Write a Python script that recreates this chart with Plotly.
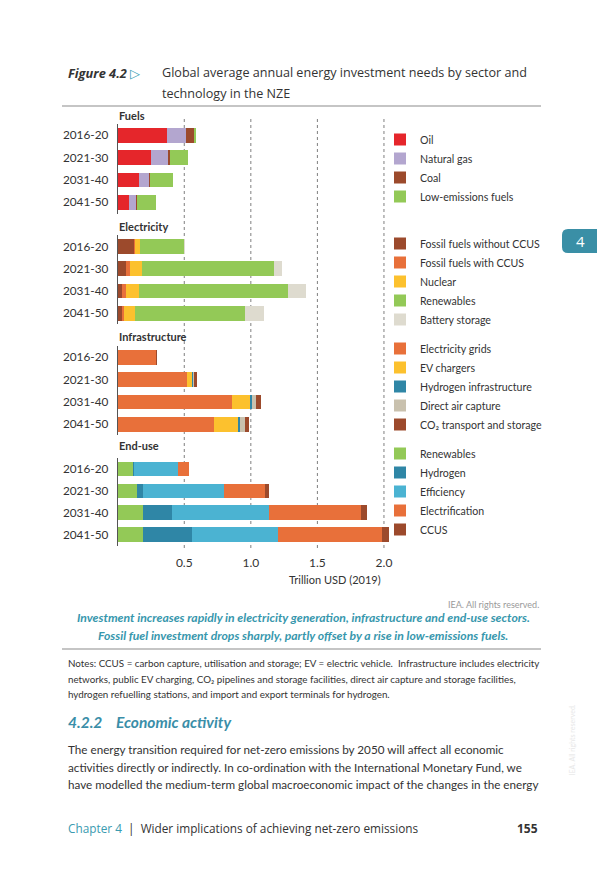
import plotly.graph_objects as go
from plotly.subplots import make_subplots

# ---------------- data ----------------
periods = ["2016-20", "2021-30", "2031-40", "2041-50"]
sections = ["Fuels", "Electricity", "Infrastructure", "End-use"]

fuels_names = ["Oil", "Natural gas", "Coal", "Low-emissions fuels"]
fuels_oil = [0.37, 0.25, 0.16, 0.085]
fuels_gas = [0.14, 0.125, 0.078, 0.055]
fuels_coal = [0.068, 0.015, 0.008, 0.003]
fuels_low = [0.01, 0.138, 0.172, 0.145]

elec_names = ["Fossil fuels without CCUS", "Fossil fuels with CCUS", "Nuclear",
              "Renewables", "Battery storage"]
elec_fossil = [0.124, 0.061, 0.031, 0.029]
elec_ccus = [0.004, 0.028, 0.030, 0.018]
elec_nuclear = [0.038, 0.090, 0.097, 0.083]
elec_renew = [0.330, 0.998, 1.120, 0.828]
elec_battery = [0.004, 0.055, 0.138, 0.140]

infra_names = ["Electricity grids", "EV chargers", "Hydrogen infrastructure",
               "Direct air capture", "CO₂ transport and storage"]
infra_grids = [0.286, 0.519, 0.859, 0.721]
infra_ev = [0.002, 0.040, 0.133, 0.183]
infra_h2 = [0.000, 0.008, 0.015, 0.015]
infra_dac = [0.000, 0.008, 0.035, 0.037]
infra_co2 = [0.002, 0.017, 0.032, 0.033]

end_names = ["Renewables", "Hydrogen", "Efficiency", "Electrification", "CCUS"]
end_renew = [0.119, 0.146, 0.189, 0.189]
end_h2 = [0.002, 0.043, 0.220, 0.372]
end_eff = [0.330, 0.610, 0.725, 0.643]
end_elec = [0.087, 0.305, 0.690, 0.778]
end_ccus = [0.000, 0.035, 0.050, 0.055]

x_ticks = [0.5, 1.0, 1.5, 2.0]
x_tick_labels = ["0.5", "1.0", "1.5", "2.0"]
x_title = "Trillion USD (2019)"

# ---------------- styles ----------------
RED = "#E5262B"
LAV = "#B3A6CF"
BROWN = "#9C4A2C"
GREEN = "#93C957"
ORANGE = "#E8703A"
YELLOW = "#FCC12E"
BEIGE = "#DEDBCF"
H2BLUE = "#2F86A6"
LBLUE = "#4BB3D2"
DAC = "#C9C1AE"
TEAL = "#3797AD"
TXT = "#333333"
FONT = "Lato"
HFONT = "Open Sans"

# the page body has an 8px margin, so the figure is 8px smaller and
# all page coordinates below are shifted by that offset
OFF = 8
W, H = 605 - OFF, 870 - OFF


def px(xp):
    return (xp - OFF) / W


def py(yp):
    return 1 - (yp - OFF) / H


groups = [
    (fuels_names, [fuels_oil, fuels_gas, fuels_coal, fuels_low],
     [RED, LAV, BROWN, GREEN]),
    (elec_names, [elec_fossil, elec_ccus, elec_nuclear, elec_renew, elec_battery],
     [BROWN, ORANGE, YELLOW, GREEN, BEIGE]),
    (infra_names, [infra_grids, infra_ev, infra_h2, infra_dac, infra_co2],
     [ORANGE, YELLOW, H2BLUE, DAC, BROWN]),
    (end_names, [end_renew, end_h2, end_eff, end_elec, end_ccus],
     [GREEN, H2BLUE, LBLUE, ORANGE, BROWN]),
]

fig = make_subplots(rows=4, cols=1, shared_xaxes=True, vertical_spacing=0.02)

legend_ids = ["legend", "legend2", "legend3", "legend4"]
for r, (names, series, colors) in enumerate(groups, start=1):
    for name, vals, col in zip(names, series, colors):
        fig.add_trace(go.Bar(
            y=periods, x=vals, name=name, orientation="h",
            marker=dict(color=col, line=dict(width=0)),
            legend=legend_ids[r - 1], hoverinfo="skip",
        ), row=r, col=1)

# subplot vertical domains (page pixels: top, bottom)
domains_px = [(124.1, 213.5), (235.4, 324.4), (346.0, 435.4), (457.8, 545.7)]
x_domain = [px(117.7), px(117.7 + 2.06 * 133.13)]

for i, (t, b) in enumerate(domains_px, start=1):
    ykey = "yaxis" if i == 1 else f"yaxis{i}"
    xkey = "xaxis" if i == 1 else f"xaxis{i}"
    fig.layout[ykey].update(
        domain=[py(b), py(t)], autorange="reversed", showline=True,
        linecolor="#555555", linewidth=1, ticks="", showgrid=False,
        tickfont=dict(family=FONT, size=11.8, color=TXT), ticklabelstandoff=6,
        fixedrange=True,
    )
    fig.layout[xkey].update(
        domain=x_domain, range=[0, 2.06], showgrid=False, zeroline=False,
        showline=False, ticks="", tickvals=x_ticks, ticktext=x_tick_labels,
        showticklabels=(i == 4), tickfont=dict(family=FONT, size=12, color=TXT),
        ticklabelstandoff=8,
    )

# dotted vertical gridlines spanning all four panels
shapes = []
for tv in x_ticks:
    shapes.append(dict(type="line", xref="x4", yref="paper", x0=tv, x1=tv,
                       y0=py(548), y1=py(118), layer="below",
                       line=dict(color="#7F7F7F", width=1, dash="dot")))
# page rules
shapes.append(dict(type="line", xref="paper", yref="paper", x0=px(62), x1=px(541),
                   y0=py(106), y1=py(106), line=dict(color="#8C8C8C", width=1.2)))
shapes.append(dict(type="line", xref="paper", yref="paper", x0=px(62), x1=px(541),
                   y0=py(649), y1=py(649), line=dict(color="#8C8C8C", width=1.2)))
# chapter tab with rounded left corners
x0, x1, y0, y1, rr = px(562), 1.0, py(229), py(253), 6
tab_path = (f"M {x1},{y0} L {x0 + rr / W},{y0} Q {x0},{y0} {x0},{y0 - rr / H} "
            f"L {x0},{y1 + rr / H} Q {x0},{y1} {x0 + rr / W},{y1} L {x1},{y1} Z")
shapes.append(dict(type="path", xref="paper", yref="paper", path=tab_path,
                   fillcolor="#3A8FA6", line=dict(width=0)))

ann = []


def text(x, y, s, size=12, color=TXT, family=FONT, xanchor="left", **kw):
    ann.append(dict(x=px(x), y=py(y), xref="paper", yref="paper", text=s,
                    showarrow=False, xanchor=xanchor, yanchor="middle",
                    font=dict(size=size, color=color, family=family), **kw))


# heading
text(66, 73, "<b><i>Figure 4.2</i></b> <span style='color:#3AA0B5'>▷</span>",
     size=12.8, family=HFONT)
text(160, 73, "Global average annual energy investment needs by sector and",
     size=12.6, family=HFONT)
text(160, 93, "technology in the NZE", size=12.6, family=HFONT)

# section labels
for s, yy in zip(sections, [116, 226, 336, 446]):
    text(117, yy, f"<b>{s}</b>", size=11)

# axis title and credit
text(383, 579, x_title, size=11, xanchor="right")
text(541, 604, "IEA. All rights reserved.", size=9, color="#9A9A9A", xanchor="right")

# caption
text(303, 617, "<b><i>Investment increases rapidly in electricity generation, infrastructure and end-use sectors.</i></b>",
     size=12.2, color=TEAL, family=FONT, xanchor="center")
text(303, 635, "<b><i>Fossil fuel investment drops sharply, partly offset by a rise in low-emissions fuels.</i></b>",
     size=12.2, color=TEAL, family=FONT, xanchor="center")

# notes
notes = [
    "Notes: CCUS = carbon capture, utilisation and storage; EV = electric vehicle.  Infrastructure includes electricity",
    "networks, public EV charging, CO₂ pipelines and storage facilities, direct air capture and storage facilities,",
    "hydrogen refuelling stations, and import and export terminals for hydrogen.",
]
for line, yy in zip(notes, [663, 679, 694]):
    text(66, yy, line, size=9.8)

# section heading and body
text(66, 722, "<b><i>4.2.2</i></b>", size=15.5, color="#3A8EA8")
text(114, 722, "<b><i>Economic activity</i></b>", size=15.5, color="#3A8EA8")
body = [
    "The energy transition required for net-zero emissions by 2050 will affect all economic",
    "activities directly or indirectly. In co-ordination with the International Monetary Fund, we",
    "have modelled the medium-term global macroeconomic impact of the changes in the energy",
]
for line, yy in zip(body, [749, 767, 784]):
    text(66, yy, line, size=11.7)

# footer
text(66, 828, "<span style='color:#3A9BB0'>Chapter 4</span>  |  Wider implications of achieving net-zero emissions",
     size=11.8, family=HFONT)
text(540, 828, "<b>155</b>", size=12, family=HFONT, xanchor="right")

# chapter tab number and vertical watermark
text(580, 241, "4", size=15, color="white", family=HFONT, xanchor="center")
ann.append(dict(x=px(577), y=py(778), xref="paper", yref="paper",
                text="IEA. All rights reserved.", showarrow=False, textangle=-90,
                font=dict(size=7, color="#E8E8E8", family=FONT)))

# legends
leg_common = dict(font=dict(family=FONT, size=10.6, color=TXT), bgcolor="rgba(0,0,0,0)",
                  traceorder="normal", xanchor="left", yanchor="top",
                  itemclick=False, itemdoubleclick=False)
legend_tops = [125, 229, 334, 439]
legend_cfg = {}
for lid, top in zip(legend_ids, legend_tops):
    legend_cfg[lid] = dict(x=px(380), y=py(top), **leg_common)

fig.update_layout(
    width=W, height=H, margin=dict(l=0, r=0, t=0, b=0),
    paper_bgcolor="white", plot_bgcolor="rgba(0,0,0,0)",
    barmode="stack", bargap=0.34, showlegend=True,
    shapes=shapes, annotations=ann, **legend_cfg,
)

fig.write_html("out.html")
